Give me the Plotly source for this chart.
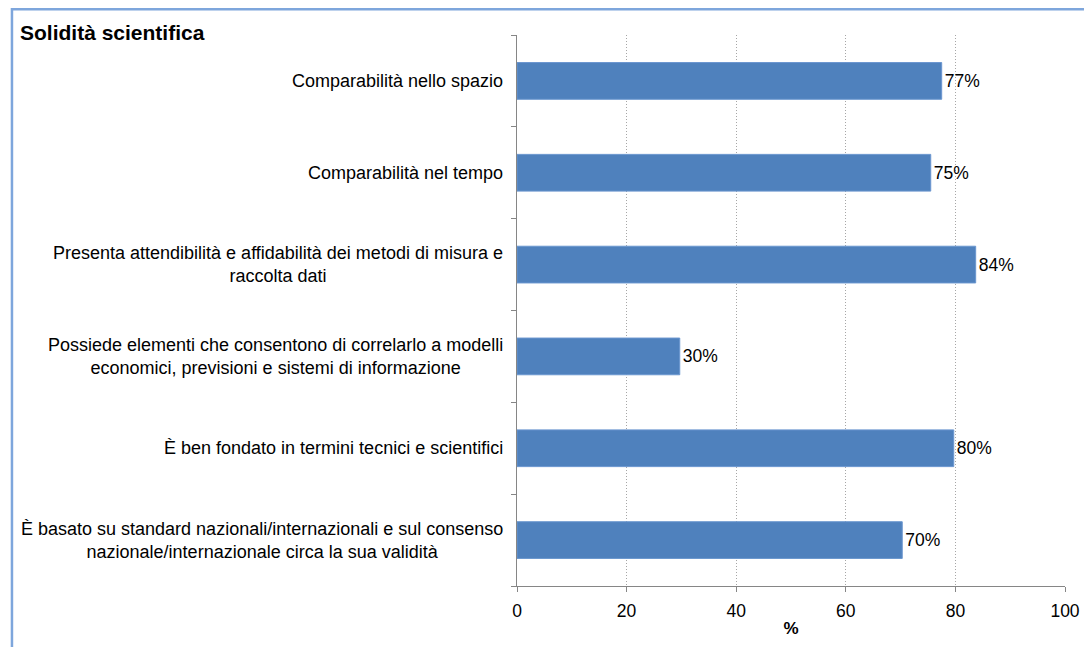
import plotly.graph_objects as go

categories = [
    "Comparabilità nello spazio",
    "Comparabilità nel tempo",
    "Presenta attendibilità e affidabilità dei metodi di misura e<br>raccolta dati",
    "Possiede elementi che consentono di correlarlo a modelli<br>economici, previsioni e sistemi di informazione",
    "È ben fondato in termini tecnici e scientifici",
    "È basato su standard nazionali/internazionali e sul consenso<br>nazionale/internazionale circa la sua validità",
]
values = [77.5, 75.5, 83.7, 29.7, 79.7, 70.3]
value_labels = ["77%", "75%", "84%", "30%", "80%", "70%"]
x_ticks = [0, 20, 40, 60, 80, 100]

FONT = "Liberation Sans, Arial, sans-serif"
# page has an 8px body offset, so the figure is sized to fit the window
W, H = 1084, 639
L, R, T, B = 509, 24, 27, 58
pw, ph = W - L - R, H - T - B

fig = go.Figure()
fig.add_trace(go.Bar(
    x=values, y=list(range(len(categories))), orientation="h",
    marker=dict(color="#4F81BD", line=dict(color="#6A96CF", width=1)),
    text=value_labels, textposition="outside", cliponaxis=False,
    textfont=dict(family=FONT, size=17.5, color="#000000"),
    width=0.40,
))

annotations = []
for i, c in enumerate(categories):
    annotations.append(dict(
        x=0, xref="paper", y=i, yref="y", text=c, showarrow=False,
        xanchor="right", yanchor="middle", align="center", xshift=-12,
        font=dict(family=FONT, size=18, color="#000000"),
    ))
annotations.append(dict(
    x=(7 - L) / pw, xref="paper", y=(H - B - 24) / ph, yref="paper",
    text="<b>Solidità scientifica</b>", showarrow=False,
    xanchor="left", yanchor="middle",
    font=dict(family=FONT, size=21, color="#000000"),
))

fig.update_layout(
    width=W, height=H,
    margin=dict(l=L, r=R, t=T, b=B),
    paper_bgcolor="white", plot_bgcolor="white",
    showlegend=False,
    annotations=annotations,
    xaxis=dict(
        range=[0, 100], tickvals=x_ticks, ticks="outside", ticklen=5,
        tickcolor="#868686", showline=True, linecolor="#868686", linewidth=1,
        showgrid=True, gridcolor="#A6A6A6", griddash="1px,2px", gridwidth=1,
        zeroline=False, tickfont=dict(family=FONT, size=17.5, color="#000000"),
        ticklabelstandoff=4,
        title=dict(text="<b>%</b>", font=dict(family=FONT, size=17, color="#000000"), standoff=2),
    ),
    yaxis=dict(
        type="linear", range=[len(categories) - 0.5, -0.5],
        tickvals=[i - 0.5 for i in range(len(categories) + 1)],
        showticklabels=False, ticks="outside", ticklen=5, tickcolor="#868686",
        showline=True, linecolor="#868686", linewidth=1,
        showgrid=False, zeroline=False,
    ),
    shapes=[dict(
        type="rect", xref="paper", yref="paper",
        x0=(1.2 - L) / pw, x1=(W + 10 - L) / pw,
        y0=(H - B - (H + 10)) / ph, y1=(H - B - 1.2) / ph,
        line=dict(color="#7EA6DC", width=2.5), fillcolor="rgba(0,0,0,0)", layer="below",
    )],
)

fig.write_html("out.html")
